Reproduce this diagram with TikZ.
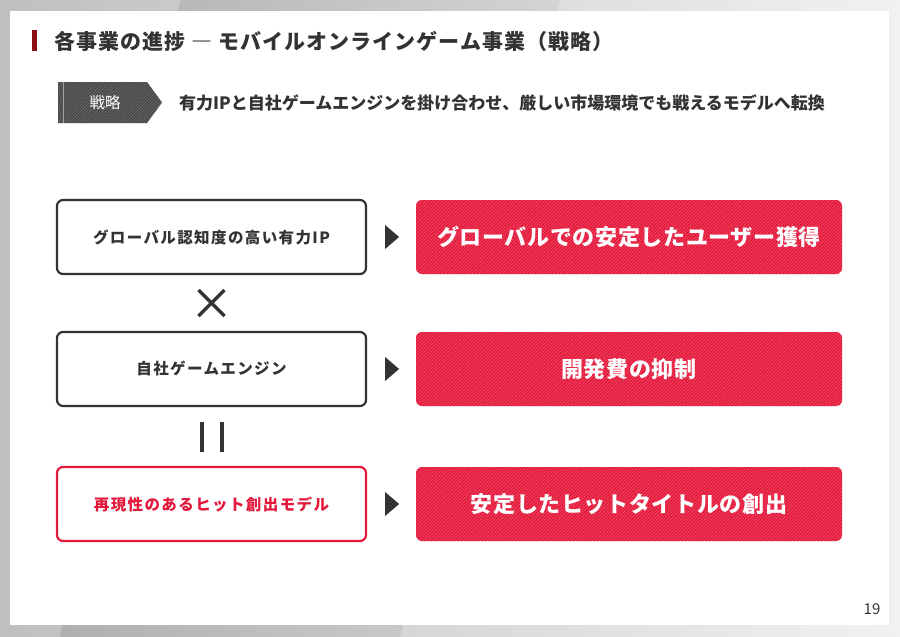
\documentclass[tikz,border=0pt]{standalone}
\usepackage{fontspec}
\setmainfont{Noto Sans CJK JP}
\newfontfamily\jp{Noto Sans CJK JP}
\newfontfamily\jpsp[LetterSpace=9]{Noto Sans CJK JP}
\newfontfamily\jpred[LetterSpace=3]{Noto Sans CJK JP}
\newfontfamily\jptitle[LetterSpace=5]{Noto Sans CJK JP}
\usetikzlibrary{patterns.meta,calc}
\definecolor{txt}{HTML}{333333}
\definecolor{crim}{HTML}{E3193C}
\definecolor{crimline}{HTML}{F04A66}
\definecolor{darkred}{HTML}{8A0F12}
\definecolor{badge}{HTML}{474747}
\definecolor{badgeline}{HTML}{6E6E6E}
\tikzset{
  leftbox/.style={draw=txt, line width=2.2pt, rounded corners=6pt, fill=white,
    minimum width=309pt, minimum height=74pt, text=txt, font=\jpsp\bfseries\fontsize{15.5}{18}\selectfont},
  redbox/.style={fill=crim, rounded corners=6pt, minimum width=426pt, minimum height=74pt,
    text=white, font=\jpred\bfseries\fontsize{22}{25}\selectfont,
    postaction={pattern={Lines[angle=45,distance=2.4pt,line width=0.7pt]}, pattern color=crimline}},
  tri/.style={fill=txt},
  opsym/.style={line width=3.6pt, draw=txt},
}
\begin{document}
\begin{tikzpicture}[x=1pt,y=-1pt]
\useasboundingbox (0,0) rectangle (900,637);
% background
\shade[left color=black!33, right color=black!7] (0,0) rectangle (900,637);
\fill[white, opacity=0.25] (0,0) -- (180,0) -- (60,637) -- (0,637) -- cycle;
\fill[white, opacity=0.25] (560,0) -- (900,0) -- (900,637) -- (400,637) -- cycle;
\fill[white] (10,11) rectangle (889,625);
% title
\fill[darkred] (32,30) rectangle (37,51);
\node[anchor=west, text=txt, font=\jptitle\bfseries\fontsize{21}{24}\selectfont, inner sep=0] (title) at (54,41)
  {各事業の進捗 ― モバイルオンラインゲーム事業（戦略）};
% badge
\path[fill=badge, postaction={pattern={Lines[angle=45,distance=2.2pt,line width=0.6pt]}, pattern color=badgeline}]
  (58,82) -- (147,82) -- (162,102.5) -- (147,123) -- (58,123) -- cycle;
\draw[white, opacity=0.45, line width=0.8pt] (63.5,82) -- (63.5,123);
\node[text=white, font=\jp\fontsize{15.5}{18}\selectfont] (badge) at (105,102.5) {戦略};
\node[anchor=west, text=txt, font=\jp\bfseries\fontsize{17}{20}\selectfont, inner sep=0] (strategy) at (179,102.5)
  {有力IPと自社ゲームエンジンを掛け合わせ、厳しい市場環境でも戦えるモデルへ転換};
% left boxes
\node[leftbox] (l1) at (211.5,237) {グローバル認知度の高い有力IP};
\node[leftbox] (l2) at (211.5,369) {自社ゲームエンジン};
\node[leftbox, draw=crim, text=crim] (l3) at (211.5,504) {再現性のあるヒット創出モデル};
% right boxes
\node[redbox] (r1) at (629,237) {グローバルでの安定したユーザー獲得};
\node[redbox] (r2) at (629,369) {開発費の抑制};
\node[redbox] (r3) at (629,504) {安定したヒットタイトルの創出};
% triangles
\foreach \i in {1,2,3}{
  \fill[tri] ($(l\i.east)+(18,-12)$) -- ++(14,12) -- ++(-14,12) -- cycle;
}
% times
\coordinate (tx) at ($(l1.south)!0.5!(l2.north)$);
\draw[opsym, line width=3.5pt] ($(tx)+(-13,-13)$) -- ($(tx)+(13,13)$);
\draw[opsym, line width=3.5pt] ($(tx)+(-13,13)$) -- ($(tx)+(13,-13)$);
% equals (vertical)
\coordinate (eq) at ($(l2.south)!0.5!(l3.north)$);
\draw[opsym, line width=4pt] ($(eq)+(-10,-15)$) -- ($(eq)+(-10,15)$);
\draw[opsym, line width=4pt] ($(eq)+(10,-15)$) -- ($(eq)+(10,15)$);
% page number
\node[text=txt, font=\jp\fontsize{15}{17}\selectfont] (page) at (872,609) {19};
\end{tikzpicture}
\end{document}
